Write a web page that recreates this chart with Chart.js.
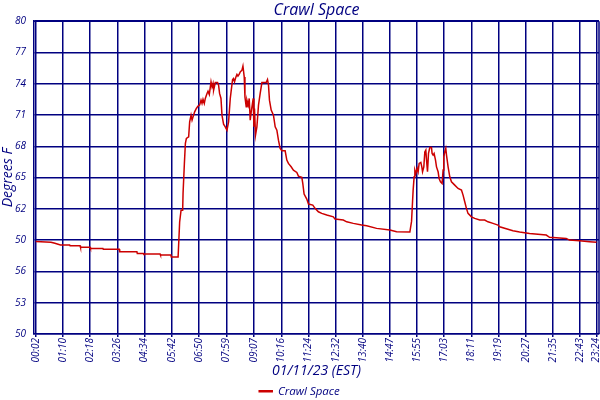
<!DOCTYPE html>
<html>
<head>
<meta charset="utf-8">
<script src="https://cdn.jsdelivr.net/npm/chart.js@4/dist/chart.umd.min.js"></script>
<style>
html,body{margin:0;padding:0;background:#fff;}
canvas{display:block;}
</style>
</head>
<body>
<canvas id="c" width="600" height="400"></canvas>
<script>
// ---- data (minutes after midnight, degrees F) ----
const times = [2,40,50,64,87,88,113,114,138,139,170,171,211,212,255,256,271,272,313,314,340,341,358,
361.9,365.4,369.4,370.4,373.7,376.2,378.7,384.4,386.9,390.4,392.9,395.4,399.4,403.6,407.8,411.8,415.3,417.8,420.3,423.5,426.0,430.3,432.8,436.0,440.3,442.8,445.3,446.8,451.0,456.7,459.2,461.7,465.2,467.7,471.7,475.9,480.2,484.2,488.4,490.9,494.2,496.6,499.1,502.6,505.1,507.6,510.9,513.3,517.6,520.1,523.3,525.1,528.3,530.1,533.3,535.8,538.3,540.8,543.3,545.8,547.5,549.0,551.5,555.0,559.0,563.2,567.5,573.2,578.2,581.5,584.0,586.4,590.7,596.4,600.7,604.9,608.9,613.1,617.4,625.6,629.8,633.8,640.6,646.3,654.8,658.8,667.3,669.7,673.0,679.7,684,694.7,700.4,708.7,717.1,729.6,746.1,750.3,771.0,779.5,796.0,816.9,829.4,854.3,887.5,904.2,937.4,
941.6,944.1,945.6,948.1,949.9,952.4,955.6,958.1,960.6,964.8,967.3,969.1,972.3,974.8,977.3,979.1,981.5,984.0,987.3,991.5,993.0,995.5,998.0,1001.5,1004.0,1008.0,1010.5,1014.0,1018.0,1020.5,1022.2,1024.7,1027.2,1029.0,1033.0,1037.2,1041.4,1049.6,1057.9,1066.4,1070.4,1074.6,1078.8,1082.8,1091.3,1099.5,1112.0,1124.5,1132.7,1145.2,1157.7,1161.9,1195.1,1211.8,1236.7,1278.4,1286.6,1328.3,1336.5,1361.5,1386.4,1404];
const temps = [58.87,58.8,58.7,58.53,58.53,58.46,58.46,58.31,58.31,58.21,58.21,58.12,58.12,57.89,57.89,57.73,57.73,57.67,57.67,57.57,57.57,57.38,57.38,
60.76,61.88,61.88,63.49,66.36,68.28,68.76,68.91,70.35,70.99,70.51,70.83,71.31,71.63,71.85,71.95,72.43,72.11,72.50,72.11,72.59,73.07,73.29,72.97,74.18,73.70,74.03,73.39,74.12,74.12,73.87,73.07,72.59,70.99,70.13,69.87,69.55,70.35,72.59,73.39,74.41,74.51,74.18,74.66,74.89,74.73,74.92,75.14,75.30,75.69,74.66,72.74,71.79,72.43,71.95,72.59,70.51,71.31,71.95,72.59,69.87,71.63,69.07,69.87,71.95,73.07,74.12,74.12,74.12,74.41,73.87,72.43,71.47,70.99,69.87,69.55,68.59,67.80,67.57,67.57,66.68,66.36,66.04,65.72,65.50,65.14,65.02,64.44,63.42,62.94,62.46,62.36,62.05,61.72,61.57,61.41,61.24,61.02,60.93,60.76,60.61,60.45,60.38,60.13,59.97,59.80,59.78,
60.8,62.68,63.80,65.08,65.72,65.40,65.88,65.56,66.36,66.46,66.03,65.56,66.03,67.47,67.64,66.68,65.56,67.32,67.89,67.89,67.32,67.16,67.32,66.68,66.03,65.56,64.92,64.60,64.44,65.72,66.99,67.47,67.80,67.16,66.03,65.08,64.60,64.28,63.96,63.80,63.32,62.68,62.05,61.57,61.24,61.09,60.93,60.93,60.76,60.61,60.45,60.28,59.90,59.78,59.65,59.49,59.27,59.17,59.01,58.94,58.85,58.79];
const seriesName = 'Crawl Space';
const xTickMinutes = [2,70,138,206,274,342,410,479,547,616,684,752,820,887,955,1023,1091,1159,1227,1295,1363,1404];
const xTickLabels = ['00:02','01:10','02:18','03:26','04:34','05:42','06:50','07:59','09:07','10:16','11:24','12:32','13:40','14:47','15:55','17:03','18:11','19:19','20:27','21:35','22:43','23:24'];
const yTickLabels = ['50','53','56','50','62','65','68','71','74','77','80'];
const chartTitle = 'Crawl Space';
const xTitle = '01/11/23 (EST)';
const yTitle = 'Degrees F';

const NAVY = '#000080';
const RED = '#cc0000';
const FONT = "'Open Sans', 'DejaVu Sans', sans-serif";

const frame = {
  id: 'frame',
  beforeDatasetsDraw(chart) {
    const {ctx, chartArea: a} = chart;
    ctx.save();
    ctx.strokeStyle = NAVY;
    ctx.lineWidth = 1.5;
    ctx.beginPath();
    ctx.moveTo(a.right, a.top);
    ctx.lineTo(a.right, a.bottom);
    ctx.moveTo(a.left, a.top);
    ctx.lineTo(a.right, a.top);
    ctx.stroke();
    ctx.restore();
  }
};

new Chart(document.getElementById('c'), {
  type: 'line',
  data: {
    datasets: [{
      label: seriesName,
      data: times.map((t, i) => ({x: t, y: temps[i]})),
      borderColor: RED,
      backgroundColor: RED,
      borderWidth: 1.5,
      pointRadius: 0,
      tension: 0,
      fill: false
    }]
  },
  options: {
    responsive: false,
    animation: false,
    devicePixelRatio: 1,
    layout: {padding: {left: 0, right: 1, top: 0, bottom: -7}},
    plugins: {
      title: {
        display: true, text: chartTitle, color: NAVY, fullSize: false,
        font: {family: FONT, size: 16, style: 'italic', weight: 'normal'},
        padding: {top: 1, bottom: 1}
      },
      legend: {
        position: 'bottom',
        labels: {
          color: NAVY, boxWidth: 13, boxHeight: 1, padding: 4,
          font: {family: FONT, size: 11.5, style: 'italic'}
        }
      },
      tooltip: {enabled: false}
    },
    scales: {
      x: {
        type: 'linear', min: -2.25, max: 1410.25,
        afterBuildTicks: s => { s.ticks = xTickMinutes.map(v => ({value: v})); },
        afterFit: s => { s.height = 47.5; s.paddingLeft = 0; s.paddingRight = 0; },
        ticks: {
          autoSkip: false, maxRotation: 90, minRotation: 90, padding: 1, color: NAVY,
          font: {family: FONT, size: 10, style: 'italic'},
          callback: (v, i) => xTickLabels[i]
        },
        grid: {color: NAVY, lineWidth: 1.5, drawTicks: true, tickLength: 3, tickColor: NAVY},
        border: {display: true, color: NAVY, width: 1.5},
        title: {
          display: true, text: xTitle, color: NAVY,
          font: {family: FONT, size: 14, style: 'italic'},
          padding: {top: 0, bottom: 2}
        }
      },
      y: {
        type: 'linear', min: 50, max: 80,
        afterFit: s => { s.width = 34; s.paddingTop = 0; s.paddingBottom = 0; },
        ticks: {
          stepSize: 3, padding: 8, color: NAVY,
          font: {family: FONT, size: 10, style: 'italic'},
          callback: (v, i) => yTickLabels[i]
        },
        grid: {color: NAVY, lineWidth: 1.5, drawTicks: false},
        border: {display: true, color: NAVY, width: 1.5},
        title: {
          display: true, text: yTitle, color: NAVY,
          font: {family: FONT, size: 14, style: 'italic'},
          padding: {top: 0, bottom: 0}
        }
      }
    }
  },
  plugins: [frame]
});
</script>
</body>
</html>
